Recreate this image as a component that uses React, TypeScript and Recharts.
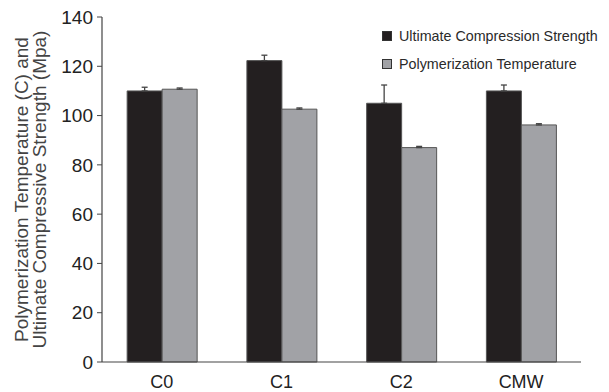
import { BarChart, Bar, XAxis, YAxis, ErrorBar } from "recharts";

const categories = ["C0", "C1", "C2", "CMW"];
const strength = [110, 122.3, 105, 110];
const strengthErr = [1.5, 2.2, 7.4, 2.4];
const temperature = [110.7, 102.6, 87, 96.2];
const temperatureErr = [0.5, 0.5, 0.5, 0.5];
const yTicks = [0, 20, 40, 60, 80, 100, 120, 140];

const SERIES = [
  { key: "strength", name: "Ultimate Compression Strength", fill: "#231f20" },
  { key: "temperature", name: "Polymerization Temperature", fill: "#a1a2a6" },
];

const FONT = "'Liberation Sans', Arial, sans-serif";

const data = categories.map((name, i) => ({
  name,
  edge: i,
  strength: strength[i],
  strengthErr: [0, strengthErr[i]],
  temperature: temperature[i],
  temperatureErr: [0, temperatureErr[i]],
}));

function LegendBox() {
  return (
    <div
      style={{
        position: "absolute",
        left: 382,
        top: 22,
        fontFamily: FONT,
        fontSize: 14.3,
        color: "#2a2a2a",
      }}
    >
      {SERIES.map((s) => (
        <div
          key={s.key}
          style={{ display: "flex", alignItems: "center", height: 28 }}
        >
          <span
            style={{
              display: "inline-block",
              width: 8,
              height: 8,
              background: s.fill,
              border: "1px solid #333",
              marginRight: 7,
            }}
          />
          {s.name}
        </div>
      ))}
    </div>
  );
}

function YLabel({ viewBox }: any) {
  const cx = 32;
  const cy = viewBox.y + viewBox.height / 2;
  return (
    <g transform={`translate(${cx},${cy}) rotate(-90)`}>
      <text
        x={0}
        y={-4}
        textAnchor="middle"
        fontFamily={FONT}
        fontSize={19}
        fill="#444"
      >
        Polymerization Temperature (C) and
      </text>
      <text
        x={0}
        y={14}
        textAnchor="middle"
        fontFamily={FONT}
        fontSize={19}
        fill="#444"
      >
        Ultimate Compressive Strength (Mpa)
      </text>
    </g>
  );
}

export default function App() {
  return (
    <div
      style={{
        position: "absolute",
        left: 0,
        top: 0,
        width: 609,
        height: 392,
        background: "#fff",
      }}
    >
      <BarChart
        width={609}
        height={392}
        data={data}
        margin={{ top: 17, right: 28, bottom: 0, left: 0 }}
        barCategoryGap="21%"
        barGap={0}
      >
        {/* tick marks between the categories */}
        <XAxis
          xAxisId="edges"
          type="number"
          dataKey="edge"
          domain={[0, 4]}
          ticks={[0, 1, 2, 3, 4]}
          tick={false}
          axisLine={false}
          tickLine={{ stroke: "#444" }}
          tickSize={5}
          height={0}
        />
        <XAxis
          xAxisId="cat"
          dataKey="name"
          height={30}
          tickLine={false}
          tickMargin={7}
          axisLine={{ stroke: "#444", strokeWidth: 1.2 }}
          tick={{ fill: "#222", fontSize: 18, fontFamily: FONT }}
        />
        <YAxis
          width={102}
          domain={[0, 140]}
          ticks={yTicks}
          interval={0}
          tickSize={5}
          tickMargin={4}
          axisLine={{ stroke: "#444", strokeWidth: 1.2 }}
          tickLine={{ stroke: "#444" }}
          tick={{ fill: "#222", fontSize: 19, fontFamily: FONT }}
          label={{ content: YLabel }}
        />
        {SERIES.map((s) => (
          <Bar
            key={s.key}
            xAxisId="cat"
            dataKey={s.key}
            name={s.name}
            fill={s.fill}
            stroke="#555"
            strokeWidth={1}
            isAnimationActive={false}
          >
            <ErrorBar
              dataKey={s.key + "Err"}
              direction="y"
              width={3}
              stroke="#444"
              strokeWidth={1.3}
              isAnimationActive={false}
            />
          </Bar>
        ))}
      </BarChart>
      <LegendBox />
    </div>
  );
}
